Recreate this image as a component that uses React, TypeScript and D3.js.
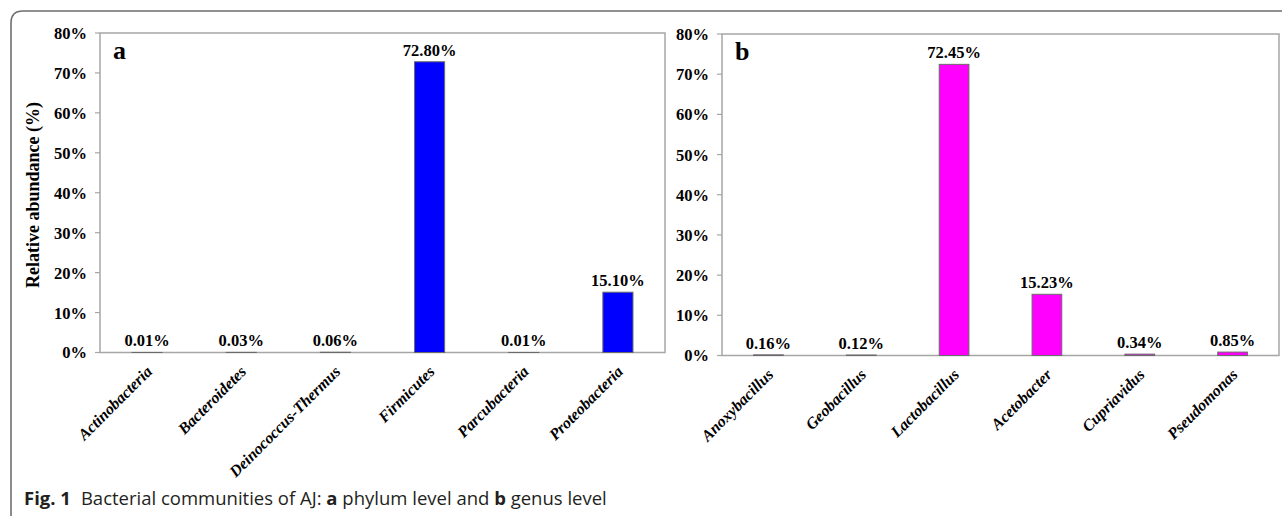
import React from "react";
import * as d3 from "d3";

// Relative abundance (%) at phylum level
const phylumNames = [
  "Actinobacteria",
  "Bacteroidetes",
  "Deinococcus-Thermus",
  "Firmicutes",
  "Parcubacteria",
  "Proteobacteria",
];
const phylumValues = [0.01, 0.03, 0.06, 72.8, 0.01, 15.1];

// Relative abundance (%) at genus level
const genusNames = [
  "Anoxybacillus",
  "Geobacillus",
  "Lactobacillus",
  "Acetobacter",
  "Cupriavidus",
  "Pseudomonas",
];
const genusValues = [0.16, 0.12, 72.45, 15.23, 0.34, 0.85];

const yTicks = [0, 10, 20, 30, 40, 50, 60, 70, 80];

const SERIF = "'Liberation Serif', 'Times New Roman', serif";
const SANS = "'Open Sans', 'Noto Sans', sans-serif";

type PanelProps = {
  x0: number;
  x1: number;
  y0: number; // pixel of 0%
  y1: number; // pixel of 80%
  names: string[];
  values: number[];
  fill: string;
  letter: string;
};

function Panel({ x0, x1, y0, y1, names, values, fill, letter }: PanelProps) {
  const x = d3
    .scaleBand<string>()
    .domain(names)
    .range([x0, x1])
    .paddingInner(0.68)
    .paddingOuter(0.34);
  const y = d3.scaleLinear().domain([0, 80]).range([y0, y1]);
  const fmt = d3.format(".2f");
  const frame = "#a6a6a6";

  return (
    <g>
      {/* plot area border */}
      <rect
        x={x0}
        y={y1}
        width={x1 - x0}
        height={y0 - y1}
        fill="none"
        stroke={frame}
        strokeWidth={1.5}
      />
      {/* y ticks and labels */}
      {yTicks.map((t) => (
        <g key={t}>
          <line x1={x0 - 5} x2={x0} y1={y(t)} y2={y(t)} stroke={frame} strokeWidth={1.2} />
          <text
            x={x0 - 13}
            y={y(t)}
            dy="0.36em"
            textAnchor="end"
            fontFamily={SERIF}
            fontWeight="bold"
            fontSize={16.5}
            fill="#000"
          >
            {`${t}%`}
          </text>
        </g>
      ))}
      {/* bars */}
      {names.map((n, i) => {
        const v = values[i];
        const top = y(v);
        return (
          <rect
            key={n}
            x={x(n)}
            y={top}
            width={x.bandwidth()}
            height={Math.max(0, y0 - top)}
            fill={fill}
            stroke="#6b6b6b"
            strokeWidth={1}
          />
        );
      })}
      {/* value labels */}
      {names.map((n, i) => {
        const v = values[i];
        const cx = (x(n) as number) + x.bandwidth() / 2;
        return (
          <text
            key={n}
            x={cx}
            y={y(v) - 6}
            textAnchor="middle"
            fontFamily={SERIF}
            fontWeight="bold"
            fontSize={16.5}
            fill="#000"
          >
            {`${fmt(v)}%`}
          </text>
        );
      })}
      {/* category labels */}
      {names.map((n) => {
        const cx = (x(n) as number) + x.bandwidth() / 2;
        return (
          <text
            key={n}
            transform={`translate(${cx + 6},${y0 + 20}) rotate(-45)`}
            textAnchor="end"
            fontFamily={SERIF}
            fontWeight="bold"
            fontStyle="italic"
            fontSize={16}
            fill="#000"
          >
            {n}
          </text>
        );
      })}
      {/* panel letter */}
      <text
        x={x0 + 13}
        y={y1 + 26}
        fontFamily={SERIF}
        fontWeight="bold"
        fontSize={26}
        fill="#000"
      >
        {letter}
      </text>
    </g>
  );
}

export default function App() {
  return (
    <svg
      width={1282}
      height={516}
      style={{ position: "absolute", left: 0, top: 0, background: "#fff" }}
    >
      {/* figure frame */}
      <path
        d="M11,516 V23 Q11,11 23,11 H1282"
        fill="none"
        stroke="#6e6e6e"
        strokeWidth={1.6}
      />
      <Panel
        x0={100}
        x1={665}
        y0={352.5}
        y1={33}
        names={phylumNames}
        values={phylumValues}
        fill="#0000ff"
        letter="a"
      />
      <Panel
        x0={722}
        x1={1279}
        y0={355.5}
        y1={34}
        names={genusNames}
        values={genusValues}
        fill="#ff00ff"
        letter="b"
      />
      <text
        transform="translate(39,195) rotate(-90)"
        textAnchor="middle"
        fontFamily={SERIF}
        fontWeight="bold"
        fontSize={18}
        fill="#000"
      >
        Relative abundance (%)
      </text>
      <text x={24} y={505} fontFamily={SANS} fontSize={18.5} fill="#231f20">
        <tspan fontWeight="bold">Fig. 1</tspan>
        <tspan dx={10}>Bacterial communities of AJ: </tspan>
        <tspan fontWeight="bold">a</tspan>
        <tspan> phylum level and </tspan>
        <tspan fontWeight="bold">b</tspan>
        <tspan> genus level</tspan>
      </text>
    </svg>
  );
}
